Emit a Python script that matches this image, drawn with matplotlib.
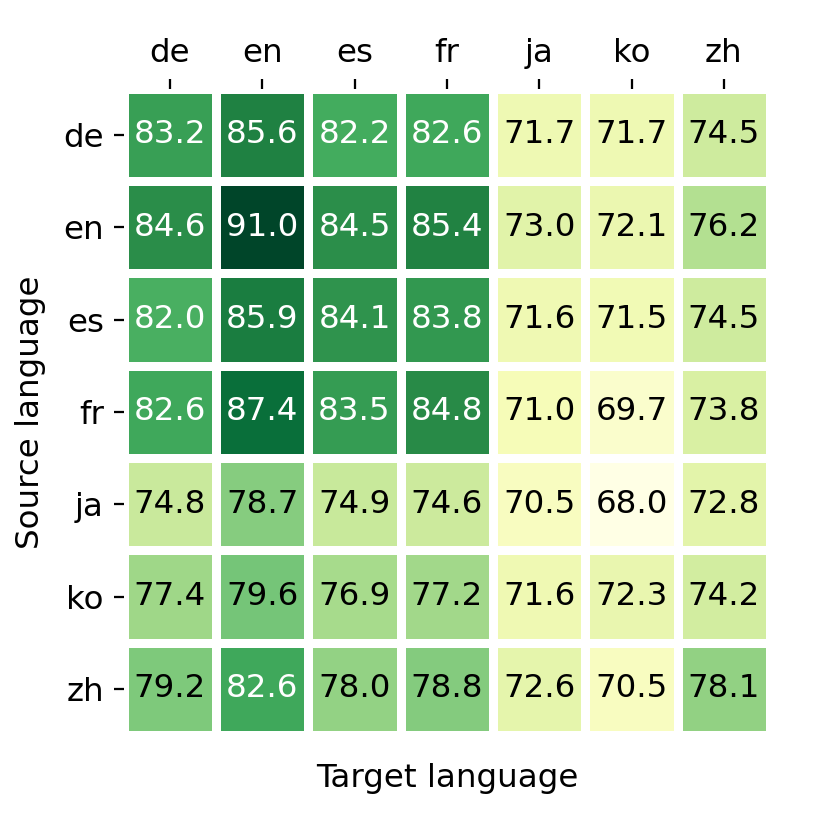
import numpy as np
import matplotlib
matplotlib.use('Agg')
from matplotlib import pyplot

langs = ['de', 'en', 'es', 'fr', 'ja', 'ko', 'zh']
scores = np.array([
    [83.2, 85.6, 82.2, 82.6, 71.7, 71.7, 74.5],
    [84.6, 91.0, 84.5, 85.4, 73.0, 72.1, 76.2],
    [82.0, 85.9, 84.1, 83.8, 71.6, 71.5, 74.5],
    [82.6, 87.4, 83.5, 84.8, 71.0, 69.7, 73.8],
    [74.8, 78.7, 74.9, 74.6, 70.5, 68.0, 72.8],
    [77.4, 79.6, 76.9, 77.2, 71.6, 72.3, 74.2],
    [79.2, 82.6, 78.0, 78.8, 72.6, 70.5, 78.1],
])

fig = pyplot.figure(figsize=(4, 4), dpi=203.5)
ax = fig.add_axes([0.152, 0.097, 0.794, 0.794])

ax.pcolormesh(scores, cmap='YlGn', vmin=scores.min(), vmax=scores.max(),
              edgecolors='white', linewidth=2.5)
ax.set_xlim(0, len(langs))
ax.set_ylim(len(langs), 0)

for i in range(len(langs)):
    for j in range(len(langs)):
        v = scores[i, j]
        ax.text(j + 0.5, i + 0.5, '{:.1f}'.format(v), ha='center', va='center',
                fontsize=11.5, color='white' if v > 80 else 'black')

ax.set_xticks(np.arange(len(langs)) + 0.5)
ax.set_yticks(np.arange(len(langs)) + 0.5)
ax.set_xticklabels(langs, fontsize=11.5)
ax.set_yticklabels(langs, fontsize=11.5, rotation=0)
ax.xaxis.tick_top()
for s in ax.spines.values():
    s.set_visible(False)

ax.set_xlabel('Target language', fontsize=11.5, labelpad=10)
ax.set_ylabel('Source language', fontsize=11.5, labelpad=6)

pyplot.savefig('out.png')
